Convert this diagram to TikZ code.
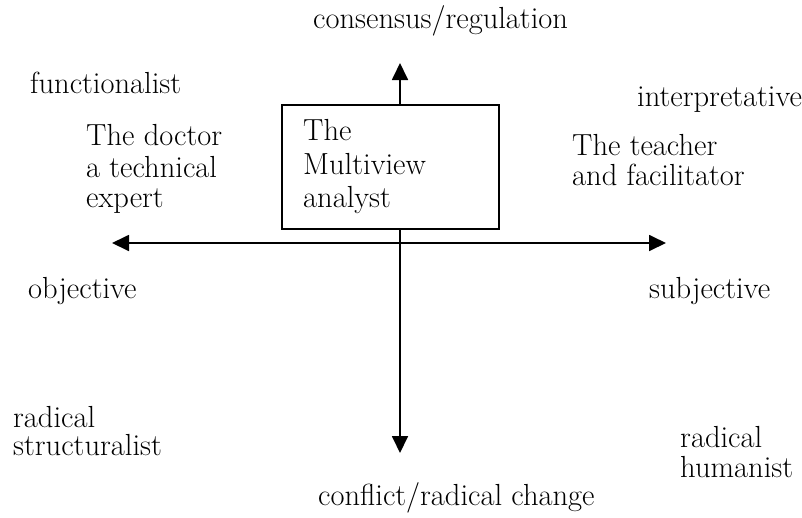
\documentclass[tikz,border=0pt]{standalone}
\usetikzlibrary{arrows.meta}
\begin{document}
\begin{tikzpicture}[x=1pt,y=-1pt,
  lbl/.style={anchor=base west,inner sep=0pt,font=\fontsize{30.5}{33}\selectfont},
  tip/.style={Triangle[length=17pt,width=16pt]},
  axis/.style={line width=1.8pt,-{Triangle[length=17pt,width=16pt]}},
  frame/.style={draw,line width=1.1pt,inner sep=0pt,minimum width=217pt,minimum height=124pt}]
\useasboundingbox (0,0) rectangle (802,517);

% axis end points
\coordinate (up) at (400,63);
\coordinate (down) at (400,453);
\coordinate (left) at (112,243);
\coordinate (right) at (666,243);

% central box
\node[frame] (mv) at (390.5,167) {};
\node[lbl] (mv1) at (303,140) {The};
\node[lbl] (mv2) at (303,174) {Multiview};
\node[lbl] (mv3) at (303,207) {analyst};

% axes
\draw[axis,{Triangle[length=17pt,width=16pt]}-{Triangle[length=17pt,width=16pt]}] (left) -- (right);
\draw[axis] (mv.north -| up) -- (up);
\draw[axis] (mv.south -| down) -- (down);

% axis labels
\node[lbl] (top) at (313,28) {consensus/regulation};
\node[lbl] (bottom) at (318,505) {conflict/radical change};
\node[lbl] (obj) at (28,298) {objective};
\node[lbl] (subj) at (649,298) {subjective};

% paradigm labels
\node[lbl] (func) at (30,93) {functionalist};
\node[lbl] (interp) at (637,106) {interpretative};
\node[lbl] (rs1) at (13,427) {radical};
\node[lbl] (rs2) at (13,455) {structuralist};
\node[lbl] (rh1) at (680,447) {radical};
\node[lbl] (rh2) at (680,477) {humanist};

% role labels
\node[lbl] (doc1) at (86,145) {The doctor};
\node[lbl] (doc2) at (86,177) {a technical};
\node[lbl] (doc3) at (86,207) {expert};
\node[lbl] (tea1) at (572,155) {The teacher};
\node[lbl] (tea2) at (572,185) {and facilitator};
\end{tikzpicture}
\end{document}
